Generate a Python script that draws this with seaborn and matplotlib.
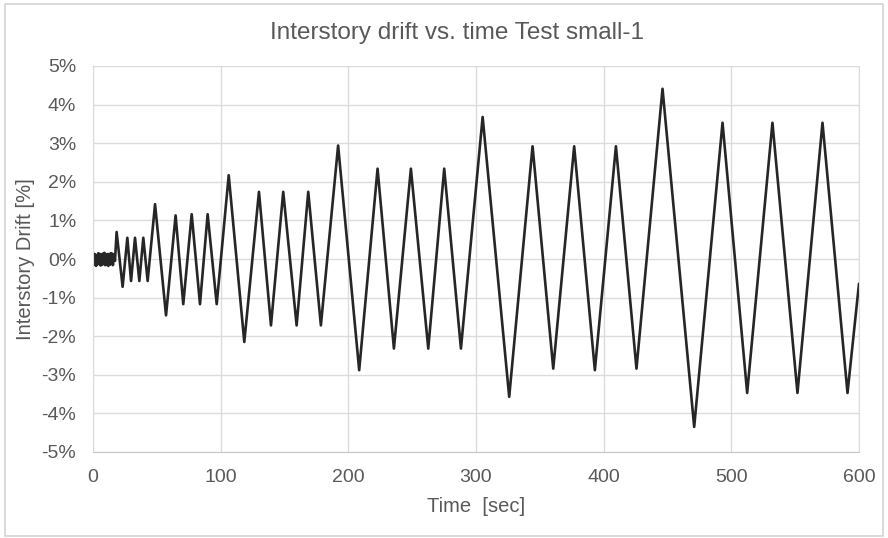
import pandas as pd
import numpy as np
import matplotlib
matplotlib.use("Agg")
import matplotlib.pyplot as plt
import seaborn as sns
from matplotlib.ticker import FuncFormatter
from matplotlib.patches import Rectangle

# noise at the start of the test (0 - 17 sec)
noise_t = [0, 0.6, 1.2, 1.8, 2.4, 3.0, 3.6, 4.2, 4.8, 5.4, 6.0, 6.6, 7.2, 7.8, 8.4,
           9.0, 9.6, 10.2, 10.8, 11.4, 12.0, 12.6, 13.2, 13.8, 14.4, 15.0, 15.6, 16.2, 17.2]
noise_v = [0.05, 0.14, -0.15, 0.12, -0.18, 0.10, -0.14, 0.15, -0.12, 0.13, -0.17, 0.11,
           -0.15, 0.14, -0.13, 0.16, -0.16, 0.12, -0.14, 0.13, -0.18, 0.12, -0.15, 0.15,
           -0.13, 0.14, -0.16, 0.12, -0.05]

# peaks / troughs of the cyclic loading protocol
peak_t = [18.5, 23.2, 26.9, 29.8, 32.9, 36.3, 39.4, 42.8, 48.6, 57.2, 64.7, 70.7, 77.3,
          83.8, 89.8, 96.9, 106.3, 118.5, 130.0, 139.4, 149.0, 159.5, 168.6, 178.5, 192.0,
          208.5, 222.9, 235.7, 249.0, 262.6, 275.1, 288.2, 305.2, 326.0, 344.3, 360.5,
          376.9, 393.1, 409.6, 425.7, 446.1, 470.9, 493.1, 512.4, 532.2, 551.8, 571.4,
          591.0, 600.0]
peak_v = [0.70, -0.72, 0.55, -0.57, 0.55, -0.57, 0.55, -0.57, 1.42, -1.46, 1.13, -1.17,
          1.16, -1.17, 1.16, -1.17, 2.17, -2.15, 1.74, -1.72, 1.74, -1.72, 1.74, -1.72,
          2.94, -2.88, 2.34, -2.32, 2.34, -2.32, 2.34, -2.32, 3.68, -3.57, 2.92, -2.84,
          2.92, -2.88, 2.92, -2.84, 4.41, -4.35, 3.53, -3.47, 3.53, -3.47, 3.53, -3.47,
          -0.64]

df = pd.DataFrame({'time': noise_t + peak_t, 'drift': noise_v + peak_v})

sns.set_style('white')
plt.rcParams['font.family'] = ['Liberation Sans', 'DejaVu Sans']

grey = '#595959'
fig = plt.figure(figsize=(8.88, 5.38), dpi=100)
# faint outer frame of the chart area
fig.patches.append(Rectangle((5/888, 2/538), 878/888, 532/538, transform=fig.transFigure,
                             fill=False, edgecolor='#d4d4d4', linewidth=1.2))
ax = fig.add_axes([93/888, 1 - 452/538, 766/888, 386/538])

sns.lineplot(data=df, x='time', y='drift', color='#262626', linewidth=1.9,
             estimator=None, sort=False, ax=ax)

ax.set_xlim(0, 600)
ax.set_ylim(-5, 5)
ax.set_xticks(np.arange(0, 601, 100))
ax.set_yticks(np.arange(-5, 6, 1))
ax.yaxis.set_major_formatter(FuncFormatter(lambda v, p: '%d%%' % v))
ax.grid(True, color='#dcdcdc', linewidth=1.0)
ax.set_axisbelow(True)
for s in ax.spines.values():
    s.set_color('#dcdcdc')
ax.spines['bottom'].set_color('#c8c8c8')
ax.tick_params(axis='both', length=0, labelsize=14, colors=grey)
ax.tick_params(axis='x', pad=12)
ax.tick_params(axis='y', pad=12)

ax.set_xlabel('Time  [sec]', fontsize=14.5, color=grey, labelpad=8)
ax.set_ylabel('Interstory Drift [%]', fontsize=14.5, color=grey, labelpad=5)
fig.text(457/888, 1 - 33/538, 'Interstory drift vs. time Test small-1', fontsize=17.5,
         color=grey, ha='center', va='center')

fig.savefig('out.png', dpi=100)
